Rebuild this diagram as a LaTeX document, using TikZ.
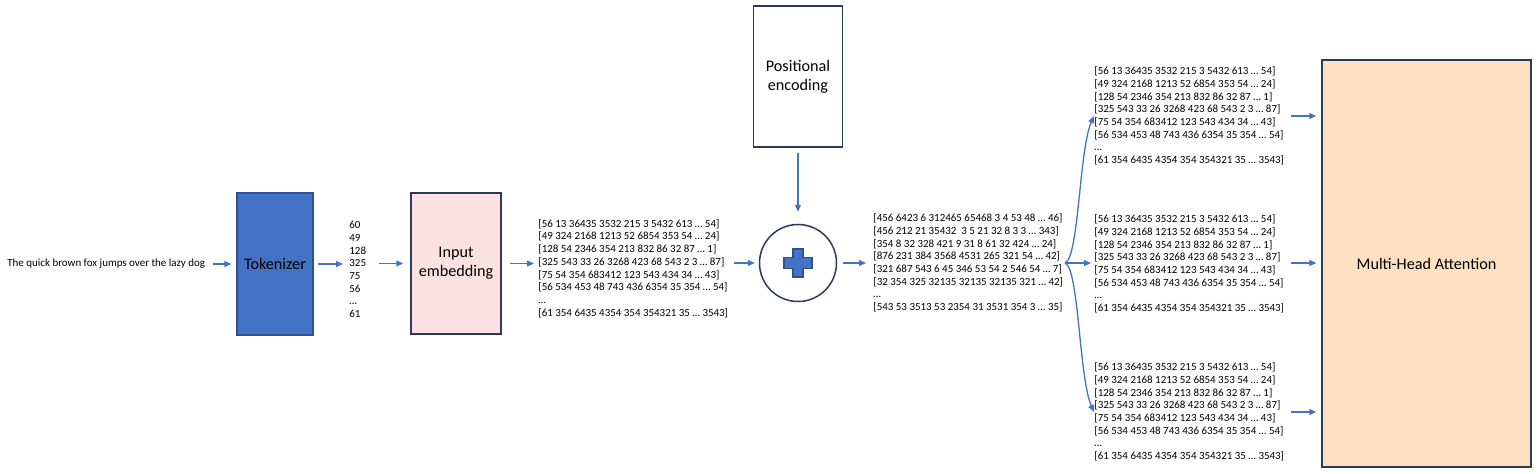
\documentclass[tikz,border=0pt]{standalone}
\usepackage{fontspec}
\setmainfont{Carlito}
\usepackage{xcolor}
\usetikzlibrary{arrows.meta}

\definecolor{flowblue}{HTML}{4472C4}
\definecolor{tokline}{HTML}{2F528F}
\definecolor{boxline}{HTML}{2B3A55}
\definecolor{embpink}{HTML}{FCE1E2}
\definecolor{attnpeach}{HTML}{FDE0BF}

\newcommand{\vecfont}{\fontsize{5.48}{6.35}\selectfont}
\newcommand{\boxfont}{\fontsize{8.1}{9.5}\selectfont}
% the embedded sentence, reused for the three heads
\newcommand{\embrows}{[56 13 36435 3532 215 3 5432 613 … 54]\\
{}[49 324 2168 1213 52 6854 353 54 … 24]\\
{}[128 54 2346 354 213 832 86 32 87 … 1]\\
{}[325 543 33 26 3268 423 68 543 2 3 … 87]\\
{}[75 54 354 683412 123 543 434 34 … 43]\\
{}[56 534 453 48 743 436 6354 35 354 … 54]\\
…\\
{}[61 354 6435 4354 354 354321 35 … 3543]}

\begin{document}
\begin{tikzpicture}[x=0.5pt,y=-0.5pt,
	block/.style={draw=boxline,line width=0.75pt,inner sep=0pt,align=center,font=\boxfont},
	vec/.style={anchor=west,inner sep=0pt,align=left,font=\vecfont}]
	\useasboundingbox (0,0) rectangle (1538,473);
	%
	\node[vec] (sent) at (7,264) {The quick brown fox jumps over the lazy dog};
	\node[block,fill=flowblue,draw=tokline,minimum width=38pt,minimum height=71pt] (tok) at (275,264) {Tokenizer};
	\node[vec] (nums) at (349,269.5) {60\\ 49\\ 128\\ 325\\ 75\\ 56\\ …\\ 61};
	\node[block,fill=embpink,minimum width=45pt,minimum height=70.5pt] (emb) at (456,263.5) {Input\\ embedding};
	\node[vec] (mat1) at (538,268.5) {\embrows};
	\node[block,fill=white,minimum width=44.5pt,minimum height=70.5pt] (pos) at (798,76.5) {Positional\\ encoding};
	\node[draw=boxline,line width=0.75pt,circle,minimum size=38.5pt,inner sep=0pt] (add) at (798,263) {};
	\draw[fill=flowblue,draw=tokline,line width=0.6pt,shift={(add.center)}]
		(-5,-14) -- (5,-14) -- (5,-5.5) -- (14,-5.5) -- (14,5.5) -- (5,5.5) -- (5,14)
		-- (-5,14) -- (-5,5.5) -- (-14,5.5) -- (-14,-5.5) -- (-5,-5.5) -- cycle;
	\node[vec] (mat2) at (873,263) {[456 6423 6 312465 65468 3 4 53 48 … 46]\\
		{}[456 212 21 35432\ \ 3 5 21 32 8 3 3 … 343]\\
		{}[354 8 32 328 421 9 31 8 61 32 424 … 24]\\
		{}[876 231 384 3568 4531 265 321 54 … 42]\\
		{}[321 687 543 6 45 346 53 54 2 546 54 … 7]\\
		{}[32 354 325 32135 32135 32135 321 … 42]\\
		…\\
		{}[543 53 3513 53 2354 31 3531 354 3 … 35]};
	\coordinate (fork) at (1065,263);
	\node[vec] (headA) at (1094,116) {\embrows};
	\node[vec] (headB) at (1094,264) {\embrows};
	\node[vec] (headC) at (1094,412) {\embrows};
	\node[block,fill=attnpeach,minimum width=104.5pt,minimum height=203.5pt] (mha) at (1426.5,263.5) {Multi-Head Attention};
	%
	\path[->,flowblue,line width=0.65pt,>={Triangle[length=3.5pt,width=3pt]}]
	% main line
	(sent) edge[shorten <=4pt,shorten >=2.5pt] (tok)
	(tok) edge[shorten <=2pt,shorten >=3pt] (tok -| nums.west)
	(nums.east |- emb) edge[shorten <=6.5pt,shorten >=3.5pt] (emb)
	(emb) edge[shorten <=4pt,shorten >=2pt] (emb -| mat1.west)
	(mat1.east |- add) edge[shorten <=3pt,shorten >=2pt] (add)
	(pos) edge[shorten <=2.5pt,shorten >=6pt] (pos |- add.north)
	(add) edge[shorten <=3pt,shorten >=3.5pt] (add -| mat2.west)
	% split into heads
	(fork) edge[shorten >=1.5pt] (fork -| headB.west)
	(headA.east) edge[shorten <=3.5pt,shorten >=2.5pt] (headA.east -| mha.west)
	(headB.east |- fork) edge[shorten <=3.5pt,shorten >=2.5pt] (fork -| mha.west)
	(headC.east) edge[shorten <=3.5pt,shorten >=2.5pt] (headC.east -| mha.west);
	\draw[->,flowblue,line width=0.65pt,>={Triangle[length=3.5pt,width=3pt]}]
		(fork) .. controls +(14,-5) and +(-15,34) .. (headA.west);
	\draw[->,flowblue,line width=0.65pt,>={Triangle[length=3.5pt,width=3pt]}]
		(fork) .. controls +(14,5) and +(-15,-34) .. (headC.west);
\end{tikzpicture}
\end{document}
